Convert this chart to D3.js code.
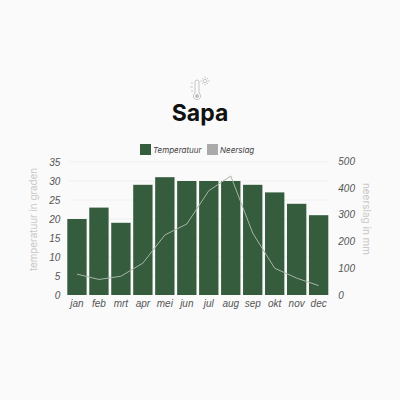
<!DOCTYPE html>
<html>
<head>
<meta charset="utf-8">
<script src="https://cdnjs.cloudflare.com/ajax/libs/d3/7.8.5/d3.min.js"></script>
<style>
  html, body { margin: 0; padding: 0; background: #fafafa; }
  svg { display: block; font-family: Inter, "Open Sans", sans-serif; }
</style>
</head>
<body>
<script>
const months = ["jan", "feb", "mrt", "apr", "mei", "jun", "jul", "aug", "sep", "okt", "nov", "dec"];
const temperatuur = [20, 23, 19, 29, 31, 30, 30, 30, 29, 27, 24, 21];
const neerslag = [78, 58, 70, 119, 224, 265, 389, 444, 231, 100, 63, 35];
const tempTicks = [0, 5, 10, 15, 20, 25, 30, 35];
const rainTicks = [0, 100, 200, 300, 400, 500];
const legendItems = ["Temperatuur", "Neerslag"];

const width = 400, height = 400;
const plotLeft = 67.3, plotRight = 328.3, plotTop = 162, plotBottom = 295;

const svg = d3.select("body").append("svg")
    .attr("width", width)
    .attr("height", height);

svg.append("rect").attr("width", width).attr("height", height).attr("fill", "#fafafa");

const x = d3.scaleBand().domain(months).range([plotLeft, plotRight]).paddingInner(0.12).paddingOuter(0);
const yTemp = d3.scaleLinear().domain([0, 35]).range([plotBottom, plotTop]);
const yRain = d3.scaleLinear().domain([0, 500]).range([plotBottom, plotTop - 1]);

// gridlines
svg.append("g").selectAll("line")
  .data(tempTicks.slice(1))
  .join("line")
    .attr("x1", plotLeft + 2).attr("x2", plotRight)
    .attr("y1", d => yTemp(d)).attr("y2", d => yTemp(d))
    .attr("stroke", "#f0f0f0");

// bars
svg.append("g").selectAll("rect")
  .data(months)
  .join("rect")
    .attr("x", d => x(d))
    .attr("y", (d, i) => yTemp(temperatuur[i]))
    .attr("width", x.bandwidth())
    .attr("height", (d, i) => plotBottom - yTemp(temperatuur[i]))
    .attr("fill", "#345c3d");

// rain line
const rainLine = d3.line()
    .x((d, i) => x(months[i]) + x.bandwidth() / 2)
    .y(d => yRain(d));

svg.append("path")
    .datum(neerslag)
    .attr("d", rainLine)
    .attr("fill", "none")
    .attr("stroke", "#a8b5a8")
    .attr("stroke-width", 1);

// axes
const axisLeft = d3.axisLeft(yTemp).tickValues(tempTicks).tickSize(0).tickPadding(7);
const axisRight = d3.axisRight(yRain).tickValues(rainTicks).tickSize(0).tickPadding(10);
const axisBottom = d3.axisBottom(x).tickSize(0).tickPadding(5);

function styleAxis(g) {
  g.select(".domain").remove();
  g.selectAll("text")
    .attr("fill", "#555")
    .attr("font-size", 10)
    .attr("font-style", "italic");
}

svg.append("g").attr("transform", `translate(${plotLeft},0)`).call(axisLeft).call(styleAxis);
svg.append("g").attr("transform", `translate(${plotRight},0)`).call(axisRight).call(styleAxis);
svg.append("g").attr("transform", `translate(0,${plotBottom})`).call(axisBottom).call(styleAxis);

// axis titles
svg.append("text")
    .attr("transform", "translate(37,219.5) rotate(-90)")
    .attr("text-anchor", "middle")
    .attr("font-size", 9.8)
    .attr("fill", "#c8c8c8")
    .text("temperatuur in graden");

svg.append("text")
    .attr("transform", "translate(363,219) rotate(90)")
    .attr("text-anchor", "middle")
    .attr("font-size", 10)
    .attr("fill", "#c8c8c8")
    .text("neerslag in mm");

// title
svg.append("text")
    .attr("x", 200).attr("y", 121)
    .attr("text-anchor", "middle")
    .attr("font-size", 23)
    .attr("font-weight", 700)
    .attr("fill", "#111")
    .text("Sapa");

// legend
const legendX = [140, 207];
const legendColors = ["#345c3d", "#aaaaaa"];
const legend = svg.append("g").selectAll("g")
  .data(legendItems)
  .join("g")
    .attr("transform", (d, i) => `translate(${legendX[i]},144)`);

legend.append("rect")
    .attr("width", 11).attr("height", 11)
    .attr("fill", (d, i) => legendColors[i]);

legend.append("text")
    .attr("x", 13).attr("y", 8.8)
    .attr("font-size", 8)
    .attr("font-style", "italic")
    .attr("fill", "#444")
    .text(d => d);

// thermometer icon
const icon = svg.append("g")
    .attr("fill", "none")
    .attr("stroke", "#c0c0c0")
    .attr("stroke-width", 0.9);

icon.append("path").attr("d", "M195,82 a2,2 0 0 1 4,0 v11 a3.6,3.6 0 1 1 -4,0 z");
icon.append("circle").attr("cx", 197).attr("cy", 96).attr("r", 1.6).attr("fill", "#c0c0c0");
icon.append("circle").attr("cx", 205).attr("cy", 81).attr("r", 1.8);
icon.append("path").attr("d", "M205,76.5v1.5M205,84v1.5M200.5,81h1.5M208,81h1.5M202,78l1,1M207,83l1,1M208,78l-1,1M203,83l-1,1");
icon.append("path").attr("d", "M191,83h2M190,87h3M191,91h2").attr("stroke-width", 0.8);
</script>
</body>
</html>
